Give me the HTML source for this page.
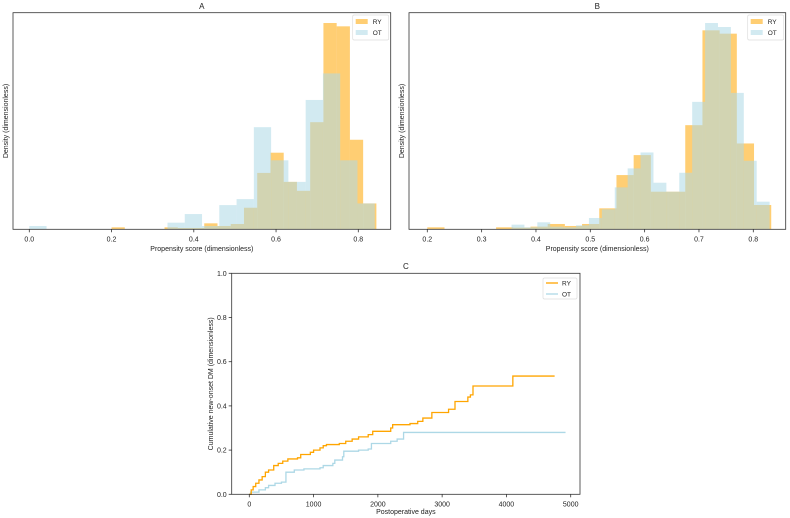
<!DOCTYPE html>
<html><head><meta charset="utf-8"><style>
html,body{margin:0;padding:0;background:#fff;}
svg{display:block;font-family:"Liberation Sans","DejaVu Sans",sans-serif;}
</style></head><body>
<svg id="fig" width="790" height="518" viewBox="0 0 790 518"></svg>
<script>
// Panel A data
const aRyStart = 0.2, aRyWidth = 0.0322;
const aRyHeights = [6,0,0,0,6,4,4,18,10,16,65,170,231,143,116,323,622,612,270,78];
const aOtStart = 0.0, aOtWidth = 0.042;
const aOtHeights = [10,0,0,0,0,0,0,0,20,46,10,73,91,308,208,143,390,470,208,78];
const aTicks = [0.0,0.2,0.4,0.6,0.8];
// Panel B data
const bRyStart = 0.2, bRyWidth = 0.03165;
const bRyHeights = [6,0,0,0,6,5,8,16,10,16,63,163,223,113,113,313,598,588,258,73];
const bOtStart = 0.355, bOtWidth = 0.02375;
const bOtHeights = [14,6,21,8,6,12,34,60,126,183,231,140,113,170,383,620,608,410,206,83];
const bTicks = [0.2,0.3,0.4,0.5,0.6,0.7,0.8];
// Panel C data
const cRyDays = [0,30,60,100,150,200,250,300,380,450,520,600,750,800,950,1000,1100,1150,1200,1400,1500,1600,1700,1850,1920,2200,2230,2500,2620,2700,2840,3100,3200,3400,3440,3480,4100];
const cRyVals = [0,0.02,0.035,0.05,0.065,0.08,0.1,0.11,0.13,0.14,0.15,0.16,0.165,0.18,0.19,0.2,0.21,0.22,0.225,0.23,0.24,0.25,0.26,0.27,0.285,0.30,0.315,0.32,0.33,0.345,0.37,0.385,0.42,0.44,0.45,0.49,0.535];
const cRyEnd = 4750;
const cOtDays = [0,20,150,250,300,400,500,570,700,850,1100,1150,1300,1330,1450,1470,1700,1850,1900,2200,2300,2400];
const cOtVals = [0,0.01,0.02,0.03,0.04,0.05,0.055,0.10,0.11,0.115,0.12,0.13,0.14,0.155,0.17,0.195,0.2,0.205,0.23,0.24,0.25,0.28];
const cOtEnd = 4920;
const cXTicks = [0,1000,2000,3000,4000,5000];
const cYTicks = [0.0,0.2,0.4,0.6,0.8,1.0];

const NS = "http://www.w3.org/2000/svg";
const svg = document.getElementById('fig');
function el(tag, attrs, parent){ const e=document.createElementNS(NS,tag); for(const k in attrs) e.setAttribute(k,attrs[k]); (parent||svg).appendChild(e); return e; }
function txt(x,y,s,size,anchor,parent,rot){ const t=el('text',{x:x,y:y,'font-size':size,'text-anchor':anchor||'middle',fill:'#222'},parent); if(rot) t.setAttribute('transform','rotate(-90 '+x+' '+y+')'); t.textContent=s; return t; }
const ORANGE='#FFA500', BLUE='#ADD8E6';

function histPanel(name, box, xmin, xmax, x0v, x1v, ticks, dec, ry, ot, title){
  const g = el('g',{});
  
  
  const xs = v => box.x0v + (v - x0v)/(x1v - x0v)*(box.x1v - box.x0v);
  const ymax = Math.max(...ry.h, ...ot.h)*1.05;
  const ys = h => box.b - h/ymax*(box.b - box.t);
  ry.h.forEach((h,i)=>{ if(h<=0) return;
    const r = el('rect',{x:xs(ry.s+i*ry.w),y:ys(h),width:xs(ry.s+(i+1)*ry.w)-xs(ry.s+i*ry.w),height:box.b-ys(h),fill:ORANGE,'fill-opacity':0.55},g);
    
    
  });
  ot.h.forEach((h,i)=>{ if(h<=0) return;
    const r = el('rect',{x:xs(ot.s+i*ot.w),y:ys(h),width:xs(ot.s+(i+1)*ot.w)-xs(ot.s+i*ot.w),height:box.b-ys(h),fill:BLUE,'fill-opacity':0.55},g);
    
    
  });
  const fr = el('rect',{x:box.l,y:box.t,width:box.r-box.l,height:box.b-box.t,fill:'none',stroke:'#333','stroke-width':0.8},g);
  
  
  ticks.forEach(v=>{ const x=xs(v);
    el('line',{x1:x,x2:x,y1:box.b,y2:box.b+3,stroke:'#333','stroke-width':0.8},g);
    const t=txt(x,box.b+12,v.toFixed(dec),7,'middle',g);
    
    
  });
  const tt=txt((box.l+box.r)/2,9,title,8,'middle',g);
  
  
  const xl=txt((box.l+box.r)/2,251,'Propensity score (dimensionless)',7,'middle',g);
  
  
  const yl=txt(box.l-5,(box.t+box.b)/2,'Density (dimensionless)',7,'middle',g,true);
  
  
  // legend
  const lg = el('g',{},g);
  
  
  const lx = box.r-38, ly=15;
  el('rect',{x:lx,y:ly,width:36,height:25,fill:'#fff',stroke:'#ddd','stroke-width':0.7,rx:1.5},lg);
  el('rect',{x:lx+3,y:ly+4,width:12,height:5,fill:ORANGE,'fill-opacity':0.55},lg);
  el('rect',{x:lx+3,y:ly+15,width:12,height:5,fill:BLUE,'fill-opacity':0.55},lg);
  txt(lx+20,ly+9,'RY',6.5,'start',lg);
  txt(lx+20,ly+20,'OT',6.5,'start',lg);
}
histPanel('panel-a-histogram',{l:13,r:390.7,t:12.7,b:229.3,x0v:29.3,x1v:358.3},0,0.84,0,0.8,aTicks,1,
  {s:aRyStart,w:aRyWidth,h:aRyHeights},{s:aOtStart,w:aOtWidth,h:aOtHeights},'A');
histPanel('panel-b-histogram',{l:409,r:785.7,t:12.7,b:229.3,x0v:427.3,x1v:753.3},0.2,0.84,0.2,0.8,bTicks,1,
  {s:bRyStart,w:bRyWidth,h:bRyHeights},{s:bOtStart,w:bOtWidth,h:bOtHeights},'B');

// Panel C
(function(){
  const g = el('g',{});
  
  
  const L=231.7,R=580,T=273.3,B=494.3;
  const xs = d => 249.3 + d/5000*(570.7-249.3);
  const ys = v => B - v*(B-T);
  function step(days, vals, end, color, name){
    let d = 'M'+xs(days[0])+','+ys(vals[0]);
    for(let i=1;i<days.length;i++){ d+=' L'+xs(days[i])+','+ys(vals[i-1])+' L'+xs(days[i])+','+ys(vals[i]); }
    d+=' L'+xs(end)+','+ys(vals[vals.length-1]);
    const p = el('path',{d:d,fill:'none',stroke:color,'stroke-width':1.3},g);
    
    
  }
  step(cOtDays,cOtVals,cOtEnd,BLUE,'ot-line');
  step(cRyDays,cRyVals,cRyEnd,ORANGE,'ry-line');
  const fr = el('rect',{x:L,y:T,width:R-L,height:B-T,fill:'none',stroke:'#333','stroke-width':0.8},g);
  
  
  cXTicks.forEach(v=>{ const x=xs(v);
    el('line',{x1:x,x2:x,y1:B,y2:B+3,stroke:'#333','stroke-width':0.8},g);
    const t=txt(x,B+12,String(v),7,'middle',g);
    
    
  });
  cYTicks.forEach(v=>{ const y=ys(v);
    el('line',{x1:L-3,x2:L,y1:y,y2:y,stroke:'#333','stroke-width':0.8},g);
    const t=txt(L-5,y+2.5,v.toFixed(1),7,'end',g);
    
    
  });
  const tt=txt((L+R)/2,269,'C',8,'middle',g);
  
  
  const xl=txt((L+R)/2,514,'Postoperative days',7,'middle',g);
  
  
  const yl=txt(213,(T+B)/2,'Cumulative new-onset DM (dimensionless)',7,'middle',g,true);
  
  
  const lg = el('g',{},g);
  
  
  el('rect',{x:543,y:278,width:34,height:21,fill:'#fff',stroke:'#ddd','stroke-width':0.7,rx:1.5},lg);
  el('line',{x1:546,x2:558,y1:283,y2:283,stroke:ORANGE,'stroke-width':1.3},lg);
  el('line',{x1:546,x2:558,y1:294,y2:294,stroke:BLUE,'stroke-width':1.3},lg);
  txt(562,285.5,'RY',6.5,'start',lg);
  txt(562,296.5,'OT',6.5,'start',lg);
})();
</script>
</body></html>
